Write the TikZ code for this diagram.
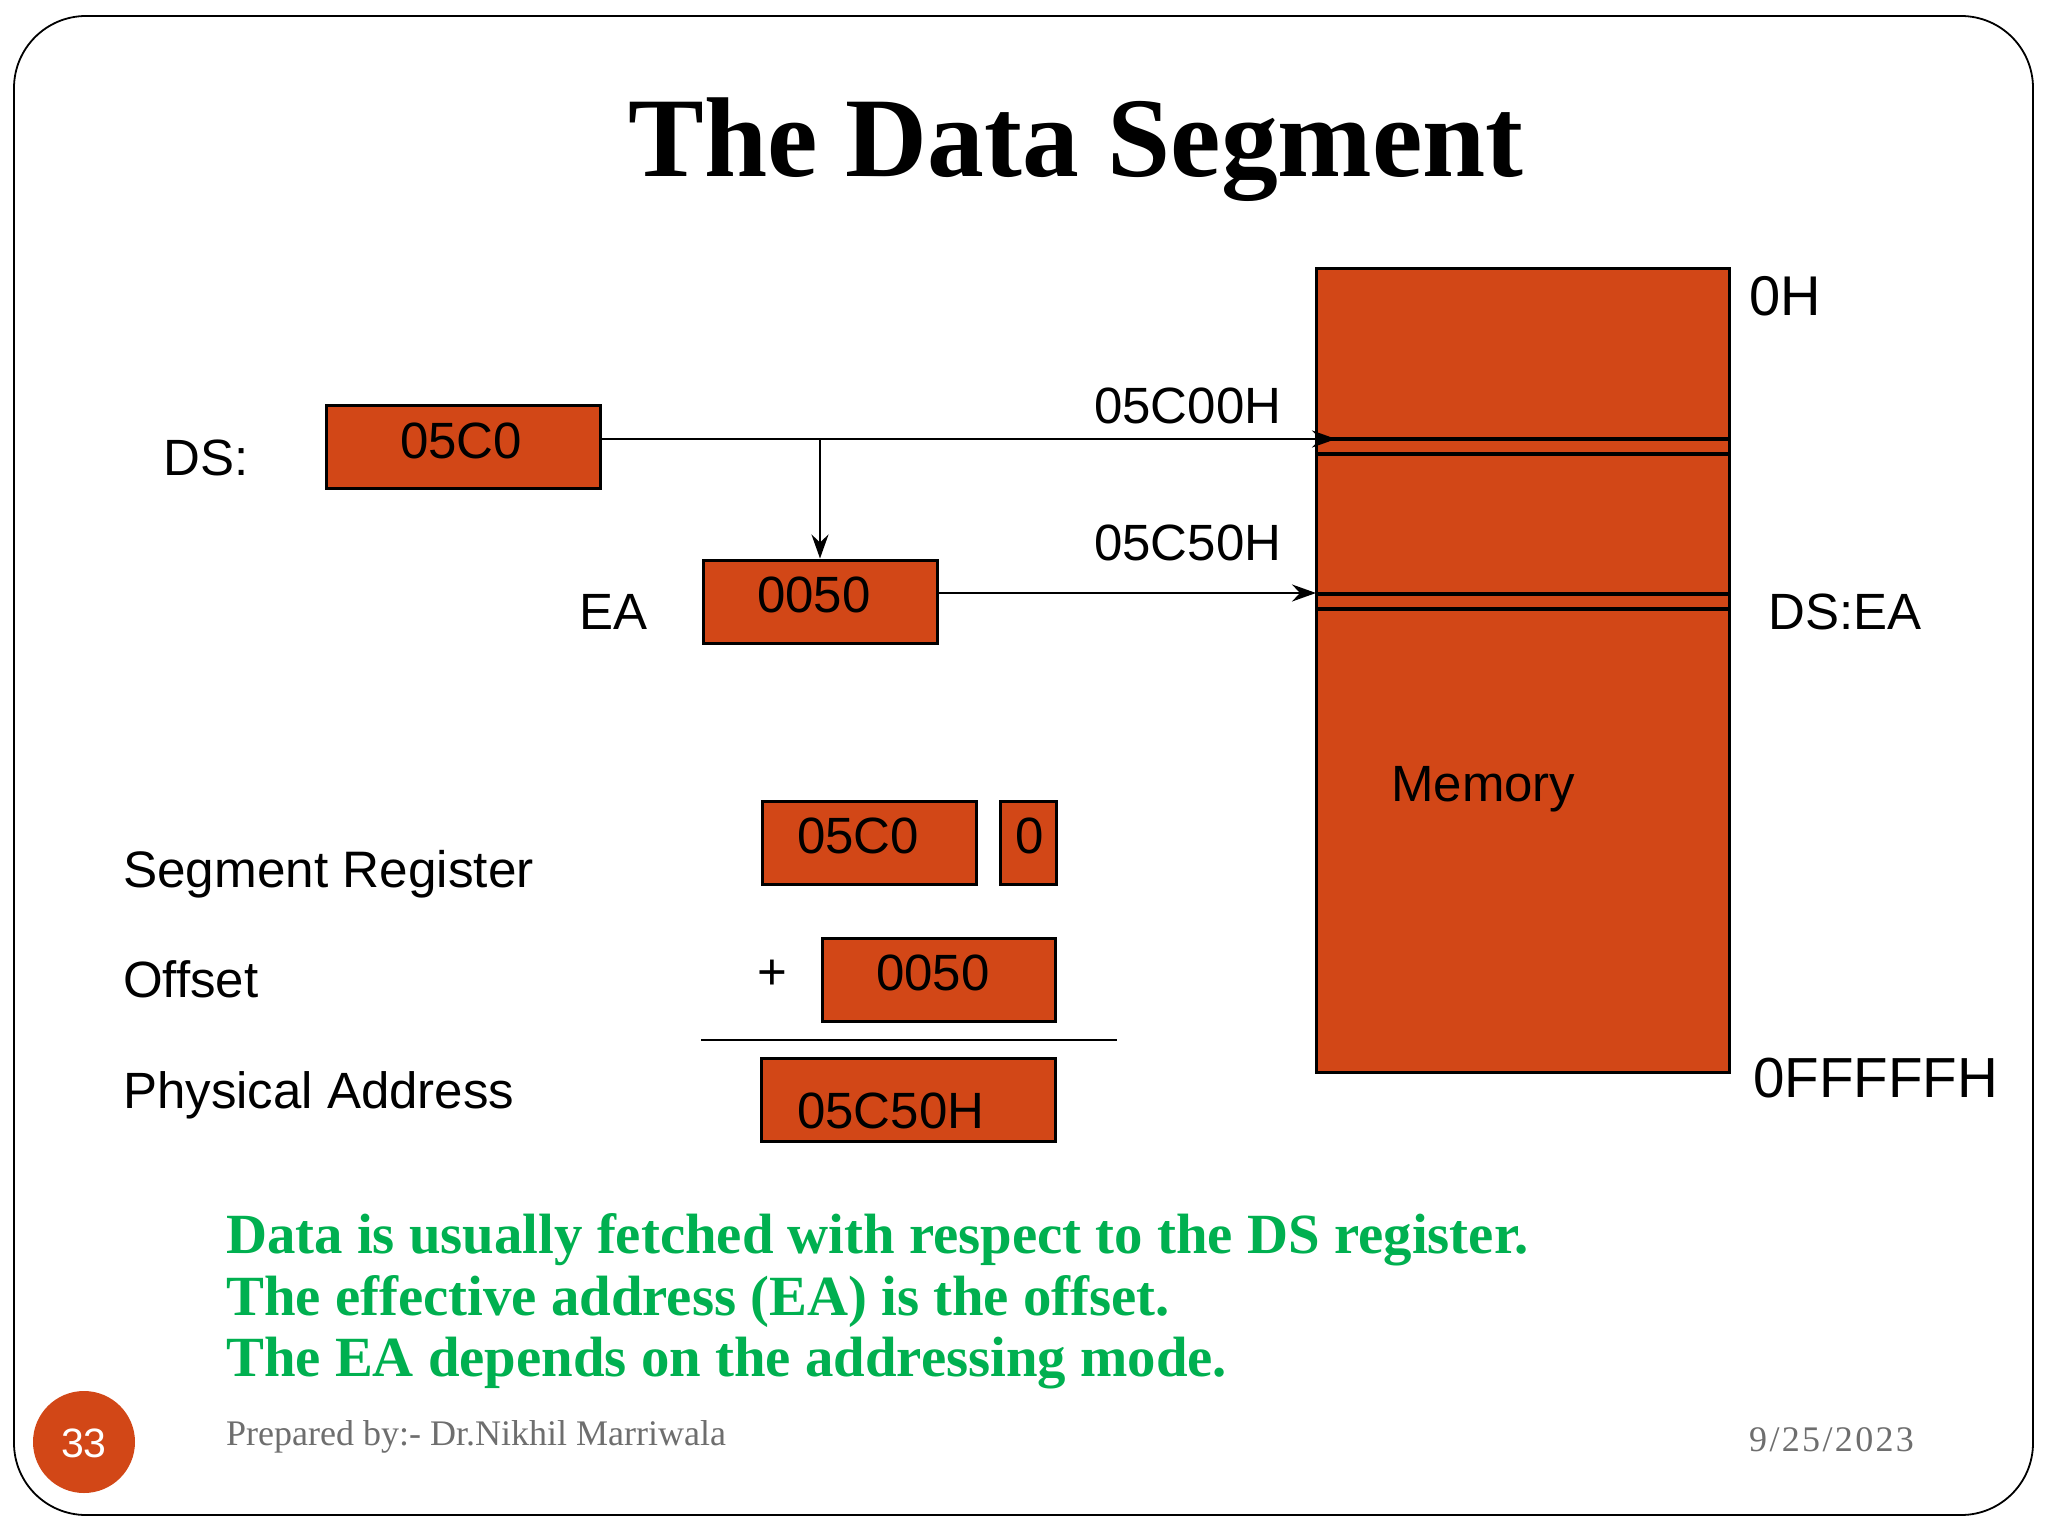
\documentclass[tikz,border=0pt]{standalone}
\usepackage{fontspec}
\setmainfont{Liberation Serif}
\setsansfont{Liberation Sans}
\usetikzlibrary{arrows.meta}
\definecolor{rust}{HTML}{D24717}
\definecolor{grn}{HTML}{00B050}
\definecolor{foot}{HTML}{6E6E6E}
\newcommand{\fs}[1]{\fontsize{#1pt}{#1pt}\selectfont}
\tikzset{x=1pt,y=-1pt,
 box/.style={draw=black,line width=3pt,fill=rust,inner sep=0pt},
 lab/.style={font=\sffamily\fs{51},anchor=base west,inner sep=0pt,text=black},
 green/.style={font=\rmfamily\bfseries\fs{56.8},anchor=base west,inner sep=0pt,text=grn},
 foottext/.style={font=\rmfamily\fs{36},anchor=base west,inner sep=0pt,text=foot},
 conn/.style={line width=2.6pt,-{Stealth[length=24pt,width=17pt,inset=8pt]}},
 plainline/.style={line width=2.6pt},
 wire/.style={line width=3.2pt}}
\begin{document}
\begin{tikzpicture}
\useasboundingbox (0,0) rectangle (2048,1536);
\fill[white] (0,0) rectangle (2048,1536);
\node[draw=black,line width=1.8pt,rounded corners=72pt,minimum width=2019pt,minimum height=1499pt,inner sep=0pt] (frame) at (1023.5,765.5) {};
\node[font=\rmfamily\bfseries\fs{113.5},anchor=base,inner sep=0pt] (title) at (1076,176) {The Data Segment};
% memory
\node[box,minimum width=413pt,minimum height=804pt] (mem) at (1523,670) {};
\coordinate (m1l) at (1317,439); \coordinate (m1r) at (1729,439);
\coordinate (m2l) at (1317,454); \coordinate (m2r) at (1729,454);
\coordinate (m3l) at (1317,594); \coordinate (m3r) at (1729,594);
\coordinate (m4l) at (1317,609); \coordinate (m4r) at (1729,609);
\draw[wire] (m1l)--(m1r); \draw[wire] (m2l)--(m2r); \draw[wire] (m3l)--(m3r); \draw[wire] (m4l)--(m4r);
% registers
\node[box,minimum width=274pt,minimum height=83pt] (ds) at (463,446.5) {};
\node[box,minimum width=234pt,minimum height=83pt] (ea) at (820,601.5) {};
\node[box,minimum width=214pt,minimum height=83pt] (seg) at (869.5,842.5) {};
\node[box,minimum width=56pt,minimum height=83pt] (zero) at (1028,842.5) {};
\node[box,minimum width=233pt,minimum height=83pt] (off) at (938.5,979.5) {};
\node[box,minimum width=294pt,minimum height=83pt] (pa) at (908.5,1099.5) {};
% connectors
\coordinate (tip1) at (1336,439);
\coordinate (branch) at (820,439);
\coordinate (tip2) at (1316,593);
\draw[conn] (ds.east|-tip1) -- (tip1);
\draw[conn] (branch) -- (ea.north-|branch);
\draw[conn] (ea.east|-tip2) -- (tip2);
\coordinate (ruleL) at (701,1040); \coordinate (ruleR) at (1117,1040);
\draw[plainline] (ruleL)--(ruleR);
% labels
\node[lab] (t1) at (163,475) {DS:};
\node[lab] (t2) at (400,458) {05C0};
\node[lab] (t3) at (1094,423) {05C00H};
\node[lab] (t4) at (1094,560) {05C50H};
\node[lab] (t5) at (579,629) {EA};
\node[lab] (t6) at (757,612) {0050};
\node[lab,font=\sffamily\fs{56}] (t7) at (1749,315) {0H};
\node[lab] (t8) at (1768,629) {DS:EA};
\node[lab] (t9) at (1391,801) {Memory};
\node[lab,font=\sffamily\fs{51.3}] (t10) at (123,887) {Segment Register};
\node[lab] (t11) at (797,853) {05C0};
\node[lab] (t12) at (1015,853) {0};
\node[lab] (t13) at (123,997) {Offset};
\node[lab] (t14) at (757,989) {+};
\node[lab] (t15) at (876,990) {0050};
\node[lab] (t16) at (123,1108) {Physical Address};
\node[lab] (t17) at (797,1128) {05C50H};
\node[lab,font=\sffamily\fs{56.5}] (t18) at (1753,1097) {0FFFFFH};
% green
\node[green] (g1) at (226,1253) {Data is usually fetched with respect to the DS register.};
\node[green] (g2) at (226,1315) {The effective address (EA) is the offset.};
\node[green] (g3) at (226,1376) {The EA depends on the addressing mode.};
% footer
\node[circle,fill=rust,minimum size=102pt,inner sep=0pt] (num) at (84,1442) {};
\node[font=\sffamily\fs{41},text=white,inner sep=0pt] (numt) at (84,1443) {33};
\node[foottext] (f1) at (226,1445) {Prepared by:- Dr.Nikhil Marriwala};
\node[foottext] (f2) at (1749,1451) {\addfontfeatures{LetterSpace=6.5}9/25/2023};
\end{tikzpicture}
\end{document}
